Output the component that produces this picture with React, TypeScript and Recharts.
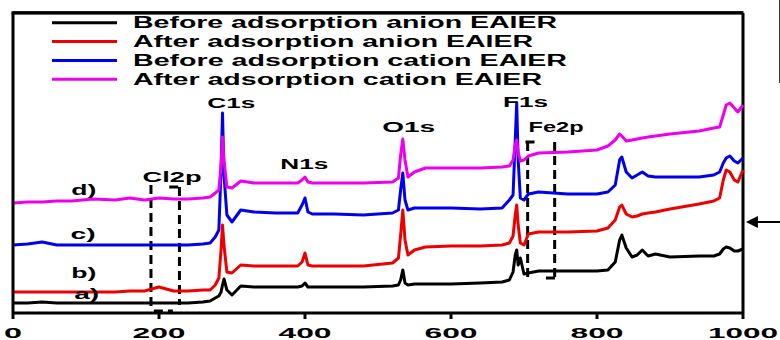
import React from "react"
import { LineChart, Line, XAxis, YAxis, ReferenceLine, ReferenceDot, Legend } from "recharts"

// binding energy (eV)
const energy = [
  0, 20, 40, 60, 80, 110, 140, 160, 180, 200, 220, 240, 260, 270, 277, 282, 285, 287, 289, 293,
  300, 312, 330, 360, 390, 396, 400, 404, 410, 440, 480, 520, 528, 531, 534, 537, 541, 550, 565, 600,
  640, 670, 680, 685, 688, 690, 692, 695, 700, 706, 720, 760, 800, 815, 825, 831, 834, 840, 848, 855,
  862, 870, 880, 900, 940, 960, 968, 973, 977, 982, 988, 993, 1000,
]

// stacked intensities (a.u.)
const beforeAnion = [
  10, 10, 11, 10, 10, 10, 10, 10, 10, 10, 10, 10, 11, 12, 15, 17, 21, 28, 34, 23,
  18, 27, 26, 26, 26, 27, 30, 26, 26, 26, 26, 27, 28, 33, 43, 30, 28, 29, 29, 29,
  30, 31, 33, 41, 58, 63, 48, 55, 39, 40, 42, 42, 42, 43, 51, 73, 78, 65, 56, 58,
  63, 57, 59, 56, 57, 57, 59, 64, 66, 65, 62, 62, 64,
]
const afterAnion = [
  21, 21, 21, 21, 21, 21, 21, 22, 22, 26, 22, 22, 23, 23, 28, 35, 63, 88, 68, 41,
  40, 48, 47, 47, 47, 51, 60, 48, 47, 47, 47, 50, 55, 78, 103, 73, 58, 63, 66, 67,
  67, 68, 70, 77, 98, 108, 88, 70, 68, 79, 81, 81, 82, 85, 93, 106, 108, 99, 96, 97,
  99, 100, 101, 104, 109, 112, 115, 133, 143, 141, 133, 131, 143,
]
const beforeCation = [
  68, 69, 71, 68, 68, 68, 68, 68, 68, 68, 68, 68, 69, 70, 76, 83, 143, 200, 138, 98,
  91, 103, 101, 100, 100, 108, 115, 101, 99, 99, 98, 100, 103, 123, 140, 113, 103, 105, 105, 105,
  104, 105, 113, 118, 173, 210, 153, 115, 113, 119, 121, 119, 119, 121, 128, 153, 156, 141, 135, 138,
  141, 137, 136, 136, 136, 138, 141, 150, 155, 157, 152, 150, 155,
]
const afterCation = [
  110, 111, 111, 112, 112, 114, 113, 115, 113, 115, 114, 114, 115, 116, 120, 123, 148, 176, 153, 126,
  125, 132, 130, 130, 130, 133, 136, 131, 130, 130, 130, 131, 135, 158, 174, 153, 136, 141, 145, 145,
  145, 146, 147, 153, 168, 173, 161, 152, 153, 157, 160, 161, 163, 167, 173, 179, 177, 172, 173, 174,
  175, 176, 177, 179, 182, 185, 186, 198, 208, 210, 205, 201, 208,
]

const seriesNames = [
  "Before adsorption anion EAIER",
  "After adsorption anion EAIER",
  "Before adsorption cation EAIER",
  "After adsorption cation EAIER",
]
const xTicks = [0, 200, 400, 600, 800, 1000]
const yTicks = [
  0, 9.4, 18.8, 28.2, 37.6, 47, 56.4, 65.8, 75.2, 84.6, 94, 103.4, 112.8, 122.2, 131.6, 141,
  150.4, 159.8, 169.2, 178.6, 188, 197.4, 206.8, 216.2, 225.6, 235, 244.4, 253.8, 263.2, 272.6, 282, 291.4,
]

const peakLabels = [
  { text: "C1s", e: 299, h: 210, w: 48 },
  { text: "N1s", e: 399, h: 149, w: 48 },
  { text: "O1s", e: 542, h: 186, w: 53 },
  { text: "F1s", e: 702, h: 211, w: 45 },
  { text: "Fe2p", e: 744, h: 186, w: 55 },
  { text: "Cl2p", e: 218, h: 136, w: 59 },
  { text: "d)", e: 97, h: 123, w: 25 },
  { text: "c)", e: 96, h: 79, w: 25 },
  { text: "b)", e: 97, h: 40, w: 25 },
  { text: "a)", e: 101, h: 19, w: 25 },
]

// dashed boxes around Cl2p and Fe2p
const boxSegments = [
  [189, 128, 189, 6],
  [228, 126, 228, 8],
  [214, 126, 229, 126],
  [193, 2, 219, 2],
  [705, 171, 705, 35],
  [742, 171, 742, 35],
  [702, 171, 719, 171],
  [730, 35, 745, 35],
]

const data = energy.map((e, i) => ({
  e,
  a: beforeAnion[i],
  b: afterAnion[i],
  c: beforeCation[i],
  d: afterCation[i],
}))

const font = "'Liberation Sans', Arial, sans-serif"
const legendWidths = [424, 400, 434, 409]
const tickWidths: Record<number, number> = { 1: 18, 3: 53, 4: 70 }
const lineProps = { strokeWidth: 3, dot: false, type: "linear" as const, strokeLinejoin: "round" as const, isAnimationActive: false }
const frameLine = { stroke: "#000", strokeWidth: 3 }

const XTick = (props: any) => {
  const { x, y, payload } = props
  const label = String(payload.value)
  return (
    <text
      x={x}
      y={y + 17}
      textAnchor="middle"
      fontSize={15}
      fontWeight="bold"
      fontFamily={font}
      fill="#000"
      textLength={tickWidths[label.length]}
      lengthAdjust="spacingAndGlyphs"
    >
      {label}
    </text>
  )
}

// legend box at (0, 0) over the whole top strip; it also carries the
// frame's top edge, which did not show as a reference line
const renderLegend = (props: any) => {
  const items = [...(props.payload || [])].sort(
    (p: any, q: any) => seriesNames.indexOf(p.value) - seriesNames.indexOf(q.value)
  )
  return (
    <svg width={745} height={92} style={{ display: "block" }}>
      <rect x={11.5} y={11.2} width={732} height={3} fill="#000" />
      {items.map((item: any, i: number) => {
        const y = 22.8 + i * 18.8
        return (
          <g key={item.value}>
            <line x1={52} x2={117} y1={y} y2={y} stroke={item.color} strokeWidth={3} />
            <text
              x={133}
              y={y + 5.5}
              fontSize={16}
              fontWeight="bold"
              fontFamily={font}
              fill="#000"
              textLength={legendWidths[i]}
              lengthAdjust="spacingAndGlyphs"
            >
              {item.value}
            </text>
          </g>
        )
      })}
    </svg>
  )
}

export default function App() {
  return (
    <div style={{ position: "absolute", left: 0, top: 0 }}>
      <LineChart width={780} height={340} data={data} margin={{ top: 13, right: 37, bottom: 0, left: 12 }}>
        <XAxis
          dataKey="e"
          type="number"
          domain={[0, 1000]}
          ticks={xTicks}
          tick={<XTick />}
          tickSize={6}
          height={27}
          axisLine={frameLine}
          tickLine={frameLine}
        />
        <YAxis
          type="number"
          domain={[0, 300]}
          ticks={yTicks}
          width={1}
          tick={false}
          tickSize={-4}
          axisLine={frameLine}
          tickLine={{ stroke: "#000", strokeWidth: 1.5 }}
        />
        <ReferenceLine y={300} stroke="#000" strokeWidth={3} ifOverflow="visible" />
        <ReferenceLine segment={[{ x: 1000, y: 0 }, { x: 1000, y: 300 }]} stroke="#000" strokeWidth={3} ifOverflow="visible" />
        <Legend
          layout="horizontal"
          verticalAlign="middle"
          align="center"
          content={renderLegend}
          wrapperStyle={{ position: "absolute", left: 0, top: 0, width: 745, height: 92, zIndex: 5 }}
        />
        {boxSegments.map(([x1, y1, x2, y2], i) => (
          <ReferenceLine
            key={"box" + i}
            segment={[{ x: x1, y: y1 }, { x: x2, y: y2 }]}
            stroke="#000"
            strokeWidth={3}
            strokeDasharray="9 5"
            ifOverflow="visible"
          />
        ))}
        <Line dataKey="a" name={seriesNames[0]} stroke="#000000" {...lineProps} />
        <Line dataKey="b" name={seriesNames[1]} stroke="#ee0000" {...lineProps} />
        <Line dataKey="c" name={seriesNames[2]} stroke="#0000ee" {...lineProps} />
        <Line dataKey="d" name={seriesNames[3]} stroke="#ee00ee" {...lineProps} />
        {peakLabels.map((p) => (
          <ReferenceDot
            key={p.text}
            x={p.e}
            y={p.h}
            ifOverflow="visible"
            shape={(s: any) => (
              <text
                x={s.cx}
                y={s.cy + 5}
                textAnchor="middle"
                fontSize={14}
                fontWeight="bold"
                fontFamily={font}
                fill="#000"
                textLength={p.w}
                lengthAdjust="spacingAndGlyphs"
              >
                {p.text}
              </text>
            )}
          />
        ))}
        {/* arrow and edge of neighbouring panel on the right */}
        <ReferenceLine segment={[{ x: 1010, y: 91 }, { x: 1052, y: 91 }]} stroke="#000" strokeWidth={2} ifOverflow="visible" />
        <ReferenceLine segment={[{ x: 1051, y: 313 }, { x: 1051, y: 230 }]} stroke="#000" strokeWidth={2} ifOverflow="visible" />
        <ReferenceDot
          x={1004}
          y={91}
          ifOverflow="visible"
          shape={(s: any) => (
            <polygon
              points={`${s.cx},${s.cy} ${s.cx + 12},${s.cy - 6} ${s.cx + 12},${s.cy + 6}`}
              fill="#000"
            />
          )}
        />
      </LineChart>
    </div>
  )
}
